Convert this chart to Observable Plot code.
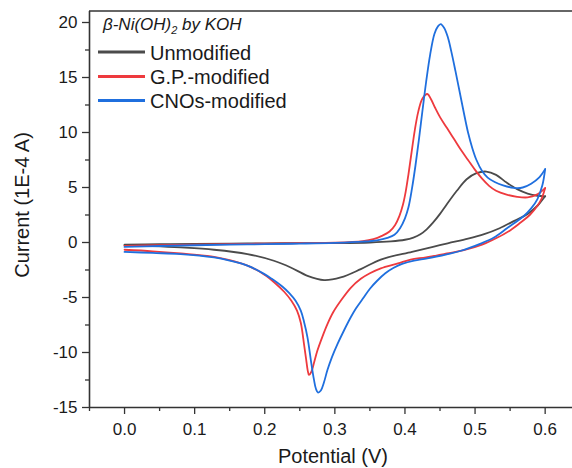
<!DOCTYPE html>
<html><head><meta charset="utf-8">
<script src="https://cdn.jsdelivr.net/npm/d3@7"></script>
<script src="https://cdn.jsdelivr.net/npm/@observablehq/plot@0.6"></script>
<style>
html,body{margin:0;padding:0;background:#fff;overflow:hidden;}
</style></head><body><div id="chart"></div>
<script>
// ---- data (Potential V, Current 1E-4 A) ----
const seriesNames = ["Unmodified", "G.P.-modified", "CNOs-modified"];
const seriesColors = ["#4b4b4b", "#ee3a3e", "#1f6fde"];
const xMajorTicks = [0, 0.1, 0.2, 0.3, 0.4, 0.5, 0.6];
const xMinorTicks = [-0.05, 0.05, 0.15, 0.25, 0.35, 0.45, 0.55];
const yMajorTicks = [-15, -10, -5, 0, 5, 10, 15, 20];
const yMinorTicks = [-12.5, -7.5, -2.5, 2.5, 7.5, 12.5, 17.5];

const unmodForward = [[0,-0.2],[0.05,-0.15],[0.1,-0.12],[0.15,-0.1],[0.2,-0.08],[0.25,-0.06],[0.3,-0.05],[0.35,0.0],[0.38,0.1],[0.40,0.25],[0.412,0.45],[0.422,0.75],[0.431,1.2],[0.44,1.8],[0.45,2.6],[0.46,3.5],[0.474,4.7],[0.488,5.75],[0.502,6.3],[0.516,6.45],[0.53,6.15],[0.545,5.45],[0.56,4.85],[0.575,4.45],[0.589,4.25],[0.6,4.2]];
const unmodReverse = [[0.6,4.2],[0.595,3.8],[0.589,3.34],[0.575,2.6],[0.556,1.97],[0.535,1.3],[0.513,0.76],[0.49,0.35],[0.461,-0.07],[0.44,-0.4],[0.41,-0.85],[0.3655,-1.55],[0.337,-2.42],[0.3084,-3.18],[0.2846,-3.42],[0.261,-3.03],[0.237,-2.27],[0.213,-1.66],[0.1753,-1.05],[0.1277,-0.66],[0.08,-0.45],[0.04,-0.33],[0,-0.25]];

const gpForward = [[0,-0.3],[0.05,-0.25],[0.1,-0.2],[0.15,-0.15],[0.2,-0.1],[0.25,-0.06],[0.3,-0.02],[0.34,0.12],[0.355,0.3],[0.367,0.6],[0.378,1.0],[0.386,1.6],[0.392,2.4],[0.397,3.4],[0.401,4.6],[0.405,6.2],[0.409,8.0],[0.414,10.2],[0.419,11.9],[0.425,13.1],[0.432,13.5],[0.437,13.05],[0.443,12.25],[0.45,11.4],[0.46,10.4],[0.47,9.4],[0.48,8.4],[0.49,7.5],[0.50,6.6],[0.51,5.8],[0.52,5.15],[0.53,4.7],[0.545,4.35],[0.56,4.15],[0.575,4.1],[0.588,4.35],[0.6,4.95]];
const gpReverse = [[0.6,4.95],[0.595,4.0],[0.589,3.34],[0.578,2.5],[0.565,1.82],[0.55,1.1],[0.532,0.45],[0.51,-0.2],[0.484,-0.7],[0.46,-1.0],[0.43,-1.35],[0.408,-1.55],[0.39,-1.9],[0.3655,-2.35],[0.35,-2.8],[0.337,-3.3],[0.323,-4.1],[0.3084,-5.3],[0.298,-6.3],[0.2894,-7.42],[0.282,-8.6],[0.275,-9.85],[0.27,-11.0],[0.2665,-11.75],[0.263,-12.03],[0.2612,-11.6],[0.259,-10.6],[0.256,-9.24],[0.2514,-7.3],[0.246,-6.2],[0.238,-5.3],[0.228,-4.5],[0.215,-3.7],[0.199,-2.9],[0.1753,-2.1],[0.15,-1.6],[0.1277,-1.3],[0.08,-1.0],[0.04,-0.8],[0,-0.66]];

const cnoForward = [[0,-0.4],[0.05,-0.32],[0.1,-0.25],[0.15,-0.2],[0.2,-0.15],[0.25,-0.1],[0.3,-0.03],[0.34,0.08],[0.36,0.2],[0.375,0.42],[0.385,0.7],[0.393,1.3],[0.4,2.2],[0.405,3.2],[0.41,4.9],[0.415,7.0],[0.42,9.4],[0.425,12.0],[0.43,14.5],[0.436,17.1],[0.442,18.95],[0.447,19.65],[0.451,19.85],[0.456,19.5],[0.461,18.7],[0.466,17.4],[0.472,15.6],[0.478,13.7],[0.484,11.8],[0.49,10.0],[0.496,8.6],[0.502,7.5],[0.51,6.5],[0.518,5.9],[0.528,5.5],[0.54,5.2],[0.555,4.97],[0.568,5.0],[0.58,5.35],[0.592,5.95],[0.6,6.67]];
const cnoReverse = [[0.6,6.67],[0.596,5.2],[0.589,3.95],[0.58,3.1],[0.570,2.43],[0.546,1.31],[0.527,0.45],[0.508,-0.1],[0.48,-0.75],[0.461,-1.05],[0.432,-1.45],[0.413,-1.65],[0.396,-1.95],[0.384,-2.3],[0.372,-2.8],[0.36,-3.5],[0.35,-4.2],[0.34,-5.1],[0.33,-6.0],[0.3227,-6.8],[0.313,-8.0],[0.3037,-9.24],[0.296,-10.4],[0.2894,-11.6],[0.2845,-12.7],[0.28,-13.45],[0.276,-13.64],[0.273,-13.3],[0.27,-12.4],[0.266,-10.8],[0.261,-8.64],[0.256,-7.2],[0.2514,-6.2],[0.244,-5.3],[0.235,-4.6],[0.225,-4.0],[0.21,-3.3],[0.199,-2.85],[0.1753,-2.1],[0.15,-1.65],[0.1277,-1.36],[0.08,-1.05],[0.04,-0.95],[0,-0.85]];

const axisTitleX = "Potential (V)";
const axisTitleY = "Current (1E-4 A)";

// ---- build table ----
function rows(pairs, name, sweep) { return pairs.map(([v, i]) => ({v, i, name, key: name + "-" + sweep})); }
const data = [
  ...rows(unmodForward, seriesNames[0], "f"), ...rows(unmodReverse, seriesNames[0], "r"),
  ...rows(gpForward, seriesNames[1], "f"), ...rows(gpReverse, seriesNames[1], "r"),
  ...rows(cnoForward, seriesNames[2], "f"), ...rows(cnoReverse, seriesNames[2], "r")
];

const axisColor = "#333";
const font = "'Liberation Sans', Arial, Helvetica, sans-serif";
const yDomain = [-15, 21];

const chart = Plot.plot({
  width: 572, height: 468,
  marginLeft: 89, marginRight: 0, marginTop: 11, marginBottom: 61,
  x: {domain: [-0.05, 0.639], axis: null},
  y: {domain: yDomain, axis: null},
  color: {domain: seriesNames, range: seriesColors},
  style: {fontFamily: font, fontSize: "17px", color: "#1a1a1a", background: "#fff"},
  marks: [
    Plot.line(data, {x: "v", y: "i", z: "key", stroke: "name", strokeWidth: 1.8, curve: "catmull-rom"}),
    Plot.ruleX([-0.05], {stroke: axisColor, strokeWidth: 1.6}),
    Plot.ruleY([-15], {stroke: axisColor, strokeWidth: 1.6}),
    Plot.axisX(xMajorTicks, {tickSize: 7, tickPadding: 8, tickFormat: d => d.toFixed(1), stroke: axisColor, strokeWidth: 1.3, label: null, fontSize: 17, fill: "#1a1a1a"}),
    Plot.axisX(xMinorTicks, {tickSize: 4, tickFormat: () => "", stroke: axisColor, strokeWidth: 1.3, label: null}),
    Plot.axisY(yMajorTicks, {tickSize: 7, tickPadding: 5, tickFormat: d => String(d), stroke: axisColor, strokeWidth: 1.3, label: null, fontSize: 17, fill: "#1a1a1a"}),
    Plot.axisY(yMinorTicks, {tickSize: 4, tickFormat: () => "", stroke: axisColor, strokeWidth: 1.3, label: null})
  ]
});

document.getElementById("chart").appendChild(chart);

// ---- frame top, titles & legend ----
const svg = d3.select(chart);
const ys = chart.scale("y");
const topY = ys.apply(yDomain[1]);
svg.append("line").attr("x1", 89).attr("x2", 572).attr("y1", topY).attr("y2", topY)
  .attr("stroke", axisColor).attr("stroke-width", 1.6);

svg.append("text").attr("x", 333).attr("y", 463).attr("text-anchor", "middle")
  .attr("font-family", font).attr("font-size", 20).attr("fill", "#1a1a1a").text(axisTitleX);
svg.append("text").attr("transform", "translate(29,205) rotate(-90)").attr("text-anchor", "middle")
  .attr("font-family", font).attr("font-size", 20).attr("fill", "#1a1a1a").text(axisTitleY);

const lt = svg.append("text").attr("x", 103).attr("y", 30).attr("text-anchor", "start").attr("font-family", font)
  .attr("font-size", 17).attr("font-style", "italic").attr("fill", "#1a1a1a");
lt.append("tspan").text("β-Ni(OH)");
lt.append("tspan").attr("font-size", 11).attr("dy", 4).text("2");
lt.append("tspan").attr("dy", -4).text(" by KOH");

const legendY = [52, 76.5, 100.5];
seriesNames.forEach((name, k) => {
  svg.append("line").attr("x1", 98).attr("x2", 145).attr("y1", legendY[k]).attr("y2", legendY[k])
    .attr("stroke", seriesColors[k]).attr("stroke-width", 3.2);
  svg.append("text").attr("x", 150).attr("y", legendY[k] + 7.5).attr("text-anchor", "start").attr("font-family", font)
    .attr("font-size", 20).attr("fill", "#1a1a1a").text(name);
});
</script>
</body></html>
